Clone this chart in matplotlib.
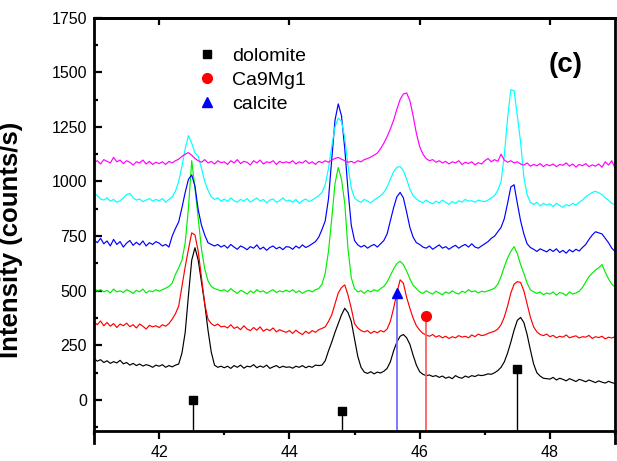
import numpy as np
import matplotlib
matplotlib.use("Agg")
import matplotlib.pyplot as plt
from matplotlib.ticker import MultipleLocator

plt.rcParams['font.family'] = ['Liberation Sans', 'DejaVu Sans']

# 2theta grid, 0.05 deg step
two_theta = np.linspace(41, 49, 161)

black = [190, 178, 185, 172, 180, 168, 176, 170, 182, 166, 172, 160, 168, 158, 165, 156, 162, 158, 150, 160,
         155, 162, 150, 158, 152, 160, 165, 215, 310, 480, 640, 697, 640, 540, 440, 320, 220, 160, 150, 155,
         148, 155, 145, 158, 150, 160, 146, 155, 152, 162, 148, 156, 150, 160, 145, 152, 158, 148, 155, 150,
         152, 146, 155, 150, 158, 148, 155, 150, 160, 158, 160, 180, 225, 265, 310, 350, 390, 420, 400, 360,
         280, 200, 150, 128, 122, 130, 120, 128, 124, 132, 145, 175, 225, 265, 292, 300, 285, 255, 205, 160,
         130, 118, 112, 115, 108, 112, 104, 110, 100, 106, 98, 112, 104, 100, 110, 104, 112, 108, 115, 112,
         115, 120, 118, 125, 135, 150, 175, 215, 265, 320, 365, 378, 355, 300, 230, 165, 125, 110, 100, 98,
         96, 104, 92, 100, 95, 88, 98, 92, 85, 95, 90, 84, 92, 86, 80, 88, 82, 78, 86, 80,
         76]
red = [358, 345, 362, 340, 355, 338, 350, 332, 348, 340, 352, 336, 345, 330, 348, 338, 325, 342, 335, 340,
       332, 345, 338, 350, 370, 395, 430, 520, 610, 690, 765, 755, 680, 560, 440, 370, 350, 340, 348, 335,
       338, 330, 345, 328, 335, 322, 340, 325, 318, 332, 320, 335, 315, 325, 318, 330, 312, 322, 315, 310,
       318, 305, 320, 308, 300, 315, 305, 318, 310, 322, 328, 335, 360, 390, 440, 490, 515, 527, 480, 420,
       350, 330, 318, 312, 318, 305, 315, 308, 318, 312, 325, 360, 420, 490, 550, 535, 470, 420, 375, 340,
       320, 305, 298, 292, 300, 288, 295, 285, 292, 282, 290, 285, 295, 288, 292, 285, 298, 290, 302, 295,
       298, 305, 310, 315, 325, 345, 380, 430, 490, 530, 542, 538, 500, 440, 380, 335, 312, 300, 295, 302,
       290, 296, 285, 292, 288, 298, 285, 290, 294, 284, 290, 288, 296, 282, 290, 286, 292, 280, 288, 284,
       290]
green = [510, 498, 505, 495, 502, 490, 508, 495, 500, 492, 505, 498, 488, 502, 495, 508, 490, 500, 496, 505,
         498, 505, 512, 520, 535, 575, 605, 640, 720, 880, 1095, 970, 830, 690, 600, 545, 520, 510, 505, 500,
         505, 495, 510, 498, 488, 502, 495, 485, 500, 490, 505, 495, 500, 488, 498, 505, 492, 500, 495, 503,
         495, 505, 492, 500, 488, 498, 502, 495, 505, 510, 530, 580, 680, 830, 990, 1064, 1010, 900, 690, 560,
         510, 495, 500, 488, 502, 495, 505, 498, 510, 520, 540, 570, 600, 625, 635, 620, 590, 555, 525, 510,
         495, 488, 500, 492, 485, 498, 490, 482, 495, 488, 500, 490, 485, 498, 492, 505, 495, 500, 490, 498,
         495, 500, 505, 512, 530, 565, 610, 650, 680, 702, 670, 620, 580, 535, 505, 495, 488, 495, 482, 490,
         485, 495, 480, 492, 488, 478, 495, 485, 490, 498, 515, 540, 565, 580, 595, 605, 620, 585, 555, 530,
         518]
blue = [733, 720, 740, 715, 728, 705, 735, 712, 725, 700, 718, 730, 708, 722, 710, 728, 705, 720, 712, 725,
        718, 705, 712, 700, 750, 785, 815, 880, 950, 1010, 1030, 978, 870, 800, 755, 720, 712, 705, 712, 700,
        708, 695, 712, 700, 690, 705, 698, 688, 702, 695, 710, 690, 700, 685, 698, 705, 692, 700, 688, 702,
        700, 690, 705, 695, 710, 698, 705, 715, 725, 745, 780, 820, 920, 1100, 1280, 1355, 1300, 1150, 960, 800,
        730, 710, 700, 708, 695, 705, 712, 700, 715, 730, 760, 820, 880, 930, 950, 925, 860, 790, 745, 720,
        712, 700, 695, 705, 690, 700, 710, 695, 702, 690, 700, 708, 695, 705, 712, 700, 715, 700, 695, 705,
        715, 725, 740, 750, 770, 790, 830, 900, 975, 985, 900, 820, 760, 715, 698, 690, 680, 692, 685, 678,
        690, 680, 692, 675, 685, 672, 688, 678, 690, 682, 698, 712, 735, 755, 770, 765, 760, 740, 720, 695,
        680]
cyan = [949, 935, 920, 915, 925, 910, 918, 905, 912, 925, 940, 945, 925, 915, 920, 908, 915, 922, 910, 918,
        912, 922, 905, 918, 930, 955, 1000, 1070, 1150, 1210, 1175, 1130, 1115, 1060, 1000, 960, 930, 918, 925, 910,
        920, 908, 925, 912, 905, 918, 910, 922, 906, 915, 925, 910, 918, 902, 915, 920, 905, 912, 925, 910,
        915, 905, 918, 900, 912, 920, 908, 915, 925, 935, 950, 985, 1060, 1160, 1250, 1290, 1275, 1200, 1070, 970,
        925, 912, 905, 918, 910, 902, 915, 925, 935, 950, 975, 1010, 1045, 1065, 1068, 1050, 1010, 965, 935, 920,
        910, 902, 915, 905, 898, 910, 902, 915, 905, 895, 908, 900, 912, 905, 918, 910, 912, 905, 915, 910,
        908, 915, 925, 935, 960, 1000, 1120, 1290, 1420, 1415, 1300, 1180, 1020, 940, 905, 895, 905, 888, 900, 892,
        898, 885, 900, 890, 882, 895, 888, 900, 892, 905, 915, 930, 940, 950, 955, 948, 940, 925, 915, 900,
        894]
magenta = [1087, 1095, 1080, 1100, 1092, 1085, 1110, 1090, 1098, 1082, 1095, 1088, 1075, 1090, 1085, 1098, 1080, 1092, 1078, 1088,
           1082, 1090, 1078, 1092, 1085, 1095, 1102, 1115, 1125, 1132, 1120, 1105, 1095, 1088, 1100, 1085, 1092, 1080, 1095, 1086,
           1090, 1078, 1095, 1085, 1100, 1082, 1092, 1088, 1075, 1095, 1085, 1098, 1080, 1090, 1086, 1095, 1078, 1092, 1085, 1090,
           1085, 1095, 1080, 1090, 1084, 1096, 1082, 1090, 1078, 1092, 1086, 1095, 1088, 1098, 1105, 1110, 1102, 1095, 1088, 1092,
           1085, 1095, 1090, 1100, 1105, 1112, 1120, 1130, 1150, 1175, 1205, 1240, 1280, 1330, 1375, 1400, 1405, 1370, 1300, 1220,
           1160, 1125, 1105, 1095, 1100, 1088, 1095, 1085, 1092, 1080, 1090, 1085, 1095, 1078, 1088, 1082, 1090, 1076, 1086, 1080,
           1095, 1105, 1090, 1100, 1092, 1125, 1098, 1088, 1095, 1085, 1090, 1080, 1075, 1085, 1070, 1078, 1072, 1082, 1068, 1078,
           1072, 1080, 1068, 1078, 1074, 1085, 1070, 1080, 1066, 1078, 1072, 1082, 1068, 1076, 1070, 1080, 1065, 1090, 1075, 1095,
           1062]

# reference peak positions (stick markers)
dolomite_pos = [42.52, 44.81, 47.49]
dolomite_int = [0, -50, 142]
ca9mg1_pos = [46.10]
ca9mg1_int = [386]
calcite_pos = [45.65]
calcite_int = [490]

y_min, y_max = -140, 1750

fig = plt.figure(figsize=(6.17, 4.61), dpi=100)
ax = fig.add_axes([0.1524, 0.0657, 0.8444, 0.8963])

for y, c in [(black, 'black'), (red, '#ff0000'), (green, '#00ee00'),
             (blue, '#0000ff'), (cyan, '#00ffff'), (magenta, '#ff00ff')]:
    ax.plot(two_theta, y, color=c, lw=0.85)

ax.vlines(dolomite_pos, y_min, dolomite_int, color='black', lw=1.0)
ax.vlines(ca9mg1_pos, y_min, ca9mg1_int, color='#ff6060', lw=1.3)
ax.vlines(calcite_pos, y_min, calcite_int, color='#7070ff', lw=1.3)
h1, = ax.plot(dolomite_pos, dolomite_int, 's', color='black', ms=6, ls='none')
h2, = ax.plot(ca9mg1_pos, ca9mg1_int, 'o', color='#ff0000', ms=7, ls='none')
h3, = ax.plot(calcite_pos, calcite_int, '^', color='#0000ff', ms=7.5, ls='none')

ax.legend([h1, h2, h3], ['dolomite', 'Ca9Mg1', 'calcite'], loc='upper left',
          bbox_to_anchor=(0.165, 0.97), frameon=False, fontsize=14, numpoints=1,
          handlelength=1.0, handletextpad=0.8, labelspacing=0.33)

ax.text(0.906, 0.885, '(c)', transform=ax.transAxes, fontsize=20,
        fontweight='bold', ha='center', va='center')

ax.set_xlim(41, 49)
ax.set_ylim(y_min, y_max)
ax.xaxis.set_major_locator(MultipleLocator(2))
ax.xaxis.set_minor_locator(MultipleLocator(1))
ax.yaxis.set_major_locator(MultipleLocator(250))
ax.yaxis.set_minor_locator(MultipleLocator(125))

for s in ax.spines.values():
    s.set_linewidth(2.0)
ax.spines['left'].set_bounds(-196, y_max)
ax.spines['right'].set_bounds(-196, y_max)

ax.tick_params(axis='x', which='major', direction='out', length=6, width=1.6,
               labelsize=11.5, pad=4)
ax.tick_params(axis='x', which='minor', direction='out', length=3, width=1.6)
ax.tick_params(axis='y', which='major', direction='in', length=6, width=1.6,
               labelsize=11.5, pad=5)
ax.tick_params(axis='y', which='minor', direction='in', length=3, width=1.6)

# top axis: major ticks only, pointing inward
top = ax.secondary_xaxis('top')
top.xaxis.set_major_locator(MultipleLocator(2))
top.tick_params(direction='in', length=5, width=1.6, labeltop=False)
top.spines['top'].set_linewidth(2.0)

ax.set_ylabel('Intensity (counts/s)', fontsize=18.5, fontweight='bold')
ax.yaxis.set_label_coords(-0.136, 0.461)

fig.savefig('out.png', dpi=100)
